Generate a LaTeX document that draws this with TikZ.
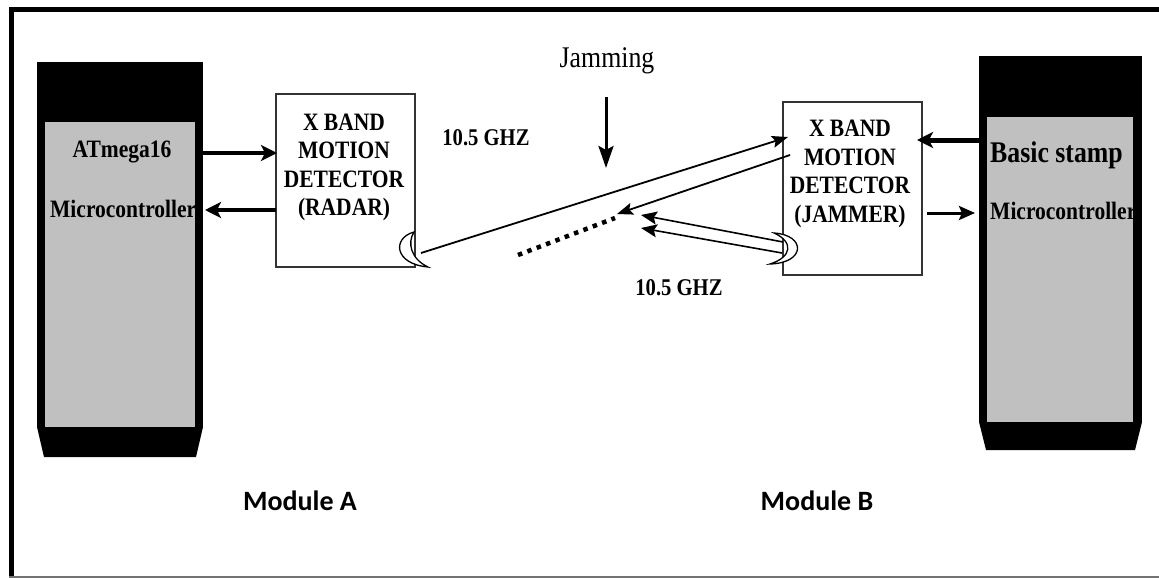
\documentclass[tikz,border=0pt]{standalone}
\usepackage{fontspec}
\setmainfont{Liberation Serif}
\newfontfamily\tnr[FakeStretch=0.86]{Liberation Serif}
\newfontfamily\calib{Carlito}
\usetikzlibrary{arrows.meta}
\definecolor{chipgray}{HTML}{C0C0C0}
\begin{document}
\begin{tikzpicture}[x=1pt,y=-1pt,
  chip/.style={fill=black,inner sep=0pt,outer sep=0pt},
  detbox/.style={draw=black!80,line width=1.5pt,fill=white,inner sep=0pt,outer sep=0pt,minimum width=139pt,minimum height=173pt},
  dettext/.style={font=\tnr\bfseries\fontsize{25}{28.5}\selectfont,align=center,inner sep=0pt},
  chiptext/.style={font=\tnr\bfseries\fontsize{25}{28}\selectfont,inner sep=0pt},
  stamptext/.style={font=\tnr\bfseries\fontsize{30}{32}\selectfont,inner sep=0pt},
  freq/.style={font=\tnr\bfseries\fontsize{24}{27}\selectfont,inner sep=0pt},
  jamtext/.style={font=\tnr\fontsize{30}{32}\selectfont,inner sep=0pt},
  modlabel/.style={font=\calib\bfseries\fontsize{28}{32}\selectfont,inner sep=0pt},
  bigarrow/.style={line width=4.5pt,-{Stealth[length=16pt,width=16pt,inset=4pt]}},
  midarrow/.style={line width=3pt,-{Stealth[length=16pt,width=14pt,inset=3pt]}},
  jamarrow/.style={line width=3pt,-{Stealth[length=22pt,width=15pt,inset=4pt]}},
  thinarrow/.style={line width=1.8pt,-{Stealth[length=16pt,width=12pt,inset=3pt]}},
  retarrow/.style={line width=1.6pt,-{Stealth[length=16pt,width=13pt,inset=3pt]}},
  dotline/.style={line width=4.5pt,dash pattern=on 4.5pt off 5.5pt},
  crescent/.style={draw=black,fill=white,line width=1.3pt},
  frameline/.style={draw=black,line width=5pt}
]
\useasboundingbox (0,0) rectangle (1159,578);

% outer frame (right side cut off)
\draw[frameline] (1159,10) -- (11,10) -- (11,576);
\draw[draw=black!55,line width=2pt] (9,576.5) -- (1159,576.5);

% ---------- Module A microcontroller ----------
\node[chip,minimum width=166pt,minimum height=365pt] (mcA) at (120,244.5) {};
\fill[chipgray] (45,122) rectangle (195,427);
\begin{scope}
  \clip (45,122) rectangle (195,427);
  \node[chiptext,anchor=base] (atmega) at (122,157) {ATmega16};
  \node[chiptext,anchor=base west] (mcAtxt) at (50,217) {Microcontroller};
\end{scope}
\fill[black] (37,427) -- (203,427) -- (196,457) -- (44,457) -- cycle;

% ---------- Module B microcontroller ----------
\node[chip,minimum width=163pt,minimum height=366pt] (mcB) at (1060.5,239) {};
\fill[chipgray] (987,117) rectangle (1133,422);
\begin{scope}
  \clip (987,117) rectangle (1133,422);
  \node[stamptext,anchor=base west] (stamp) at (990,162) {Basic stamp};
  \node[chiptext,anchor=base west] (mcBtxt) at (990,219) {Microcontroller};
\end{scope}
\fill[black] (979,422) -- (1142,422) -- (1135,450) -- (986,450) -- cycle;

% ---------- detectors ----------
\node[detbox] (radar) at (345.5,180.5) {};
\node[dettext] (radartxt) at (344,167.5) {X BAND\\MOTION\\DETECTOR\\(RADAR)};
\node[detbox] (jammer) at (852.5,188.5) {};
\node[dettext] (jammertxt) at (850,174) {X BAND\\MOTION\\DETECTOR\\(JAMMER)};

% antennas
\path[crescent] (414,232) .. controls (392,238) and (394,264) .. (428,267)
  .. controls (411,259) and (407,243) .. (414,232) -- cycle;
\path[crescent] (774,233) .. controls (806,235) and (806,263) .. (770,264)
  .. controls (792,257) and (794,242) .. (774,233) -- cycle;

% ---------- labels ----------
\node[jamtext,anchor=base] (jamlbl) at (607,67) {Jamming};
\node[freq,anchor=base] (f1) at (486,145) {10.5 GHZ};
\node[freq,anchor=base] (f2) at (679,295) {10.5 GHZ};
\node[modlabel,anchor=base] (modA) at (300,510) {Module A};
\node[modlabel,anchor=base] (modB) at (817,510) {Module B};

% ---------- coordinates for connectors ----------
\coordinate (radAnt) at (421,253);
\coordinate (jamRx) at (788,137);
\coordinate (jamTx) at (790,155);
\coordinate (reflTip) at (617,214);
\coordinate (dotA) at (518,255);
\coordinate (dotB) at (615,218);
\coordinate (jamAnt1) at (783,242);
\coordinate (jamAnt2) at (782,253);
\coordinate (ret1) at (641,215);
\coordinate (ret2) at (641,228);
\coordinate (jamArrTop) at (606,97);
\coordinate (jamArrEnd) at (606,168);

% ---------- connectors ----------
\draw[bigarrow] (mcA.east |- 0,153) -- ([xshift=1pt]radar.west |- 0,153);
\draw[bigarrow] (radar.west |- 0,210) -- ([xshift=2pt]mcA.east |- 0,210);
\draw[bigarrow,line width=5pt] (mcB.west |- 0,140) -- ([xshift=-5pt]jammer.east |- 0,140);
\draw[midarrow] ([xshift=5pt]jammer.east |- 0,213) -- ([xshift=-4pt]mcB.west |- 0,213);

\draw[thinarrow] (radAnt) -- (jamRx);
\draw[thinarrow] (jamTx) -- (reflTip);
\draw[dotline] (dotA) -- (dotB);
\draw[retarrow] (jamAnt1) -- (ret1);
\draw[retarrow] (jamAnt2) -- (ret2);
\draw[jamarrow] (jamArrTop) -- (jamArrEnd);
\end{tikzpicture}
\end{document}
